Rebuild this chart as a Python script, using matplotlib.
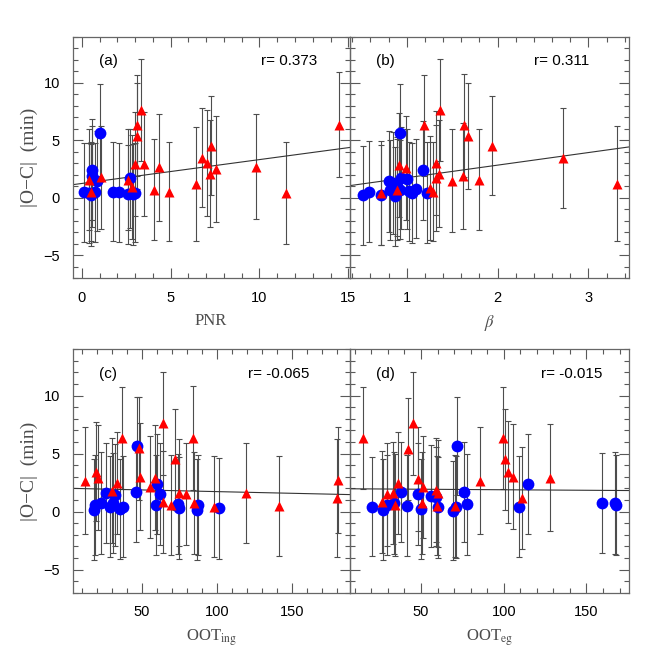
import numpy as np
import matplotlib
matplotlib.use('Agg')
import matplotlib.pyplot as plt
from matplotlib.ticker import MultipleLocator, FixedLocator

# ---- data ----
# panel (a): PNR
pnr_blue = [1.0, 0.56, 2.73, 0.13, 0.38, 0.51, 0.75, 0.88, 0.56, 1.75, 2.12, 2.63, 2.91, 3.0]
oc_a_blue = [5.66, 2.43, 1.71, 0.49, 0.43, 0.23, 0.49, 1.43, 1.86, 0.51, 0.49, 0.29, 0.29, 0.43]
err_a_blue = [4.25, 4.4, 4.3, 4.3, 4.35, 4.4, 4.3, 4.35, 4.4, 4.3, 4.3, 4.3, 4.4, 4.3]
pnr_red = [0.38, 0.5, 1.07, 2.58, 2.82, 2.97, 3.1, 3.1, 3.35, 3.48, 4.04,
           4.34, 4.9, 6.41, 6.75, 7.05, 7.2, 7.29, 7.58, 9.79, 11.49, 14.45]
oc_a_red = [1.57, 0.51, 1.77, 1.57, 0.94, 2.91, 6.29, 5.34, 7.63, 2.91, 0.71,
            2.66, 0.51, 1.2, 3.49, 3.0, 2.09, 4.51, 2.49, 2.71, 0.43, 6.34]
err_a_red = [4.4, 4.3, 4.5, 4.4, 4.5, 4.5, 4.4, 4.6, 4.43, 4.5, 4.4,
             4.65, 4.3, 4.95, 4.3, 4.6, 4.66, 4.3, 4.6, 4.6, 4.45, 4.55]

# panel (b): beta
beta_blue = [0.52, 0.58, 0.72, 0.81, 0.87, 0.85, 0.93, 0.94, 0.93, 1.0,
             1.02, 1.06, 1.10, 1.18, 1.22, 0.82, 0.89]
oc_b_blue = [0.23, 0.51, 0.23, 1.43, 0.14, 1.29, 5.63, 1.71, 0.71, 1.63,
             0.57, 0.43, 0.77, 2.37, 0.43, 0.71, 1.0]
err_b_blue = [4.3, 4.4, 4.35, 4.4, 4.3, 4.4, 4.25, 4.4, 4.3, 4.35,
              4.3, 4.35, 4.3, 4.3, 4.4, 4.35, 4.3]
beta_red = [0.72, 0.89, 0.92, 0.99, 1.19, 1.26, 1.29, 1.32, 1.32, 1.35,
            1.37, 1.5, 1.62, 1.63, 1.67, 1.8, 1.94, 2.72, 3.31]
oc_b_red = [0.43, 0.71, 2.86, 2.57, 6.29, 0.86, 0.51, 1.71, 3.0, 2.09,
            7.63, 1.49, 1.86, 6.29, 5.34, 1.57, 4.51, 3.49, 1.2]
err_b_red = [4.5, 4.4, 4.5, 4.5, 4.4, 4.5, 4.3, 4.6, 4.5, 4.66,
             4.43, 4.45, 4.6, 4.5, 4.6, 4.4, 4.3, 4.35, 5.0]

# panel (c): OOT ingress
ooti_blue = [18.2, 18.9, 22.7, 26.2, 28.9, 32.2, 31.1, 35.6, 37.3, 46.7,
             46.2, 60.4, 62.2, 59.6, 74.4, 74.9, 87.8, 87.1, 101.8]
oc_c_blue = [0.14, 0.57, 0.78, 1.58, 0.43, 1.44, 0.72, 0.2, 0.43, 5.66,
             1.67, 2.39, 1.49, 0.57, 0.66, 0.34, 0.57, 0.14, 0.29]
err_c_blue = [4.36, 4.3, 4.4, 4.3, 4.35, 4.4, 4.3, 4.3, 4.35, 4.25,
              4.3, 4.3, 4.4, 4.35, 4.3, 4.4, 4.3, 4.35, 4.37]
ooti_red = [12.2, 19.6, 21.1, 30.0, 33.3, 36.7, 48.4, 48.9, 55.6, 58.9, 64.0, 64.4,
            69.6, 72.2, 74.9, 79.3, 84.4, 84.9, 98.4, 119.6, 141.8, 180.0, 181.1]
oc_c_red = [2.67, 3.45, 2.93, 1.81, 2.5, 6.32, 5.46, 3.02, 2.1, 2.93, 0.86, 7.61,
            0.57, 4.51, 1.64, 1.49, 6.32, 0.78, 0.43, 1.58, 0.49, 1.15, 2.73]
err_c_red = [4.6, 4.3, 4.5, 4.5, 4.4, 4.4, 4.45, 4.6, 4.4, 4.5, 4.4, 4.46,
             4.3, 4.34, 4.6, 4.4, 4.5, 4.4, 4.35, 4.3, 4.34, 5.1, 4.6]

# panel (d): OOT egress
oote_blue = [20.2, 26.9, 29.3, 33.9, 37.9, 41.8, 48.0, 49.8, 56.0, 59.1, 60.5,
             69.5, 71.1, 71.5, 76.0, 78.0, 109.4, 114.6, 159.1, 167.5, 168.1]
oc_d_blue = [0.43, 0.14, 0.57, 0.72, 1.67, 0.52, 1.49, 0.2, 1.38, 1.29, 0.37,
             0.09, 0.37, 5.66, 1.67, 0.63, 0.43, 2.39, 0.72, 0.72, 0.57]
err_d_blue = [4.3, 4.35, 4.3, 4.4, 4.3, 4.35, 4.4, 4.3, 4.4, 4.3, 4.35,
              4.3, 4.4, 4.25, 4.3, 4.35, 4.35, 4.3, 4.3, 4.4, 4.3]
oote_red = [15.2, 26.3, 29.7, 33.0, 34.3, 35.9, 42.4, 45.0, 48.0, 51.0, 50.4, 59.1,
            60.5, 59.9, 70.5, 85.6, 99.7, 100.7, 102.7, 105.7, 110.8, 127.9]
oc_d_red = [6.32, 0.86, 1.49, 1.64, 0.57, 2.44, 5.4, 7.61, 2.79, 2.16, 0.78, 1.87,
            1.58, 0.52, 0.49, 2.67, 6.32, 4.51, 3.45, 3.02, 1.15, 2.93]
err_d_red = [4.4, 4.4, 4.45, 4.4, 4.4, 4.4, 4.4, 4.46, 4.5, 4.4, 4.4, 4.5,
             4.6, 4.3, 4.4, 4.6, 4.4, 4.34, 4.4, 4.5, 4.4, 4.6]

# linear fits (intercept, slope) and correlation coefficients
fit_intercept = [1.24, 0.645, 2.01, 1.97]
fit_slope = [0.2075, 1.094, -0.0029, -0.0009]
r_values = ['0.373', '0.311', '-0.065', '-0.015']
panel_tags = ['(a)', '(b)', '(c)', '(d)']
xlabels = ['PNR', r'$\beta$', r'OOT$_{\rm ing}$', r'OOT$_{\rm eg}$']

plt.rcParams['mathtext.fontset'] = 'stix'
plt.rcParams['font.family'] = ['Liberation Sans', 'DejaVu Sans']

fig = plt.figure(figsize=(6.64, 6.64), dpi=100)
positions = [
    [0.1092, 0.5809, 0.4172, 0.3639],
    [0.5264, 0.5809, 0.4209, 0.3639],
    [0.1092, 0.1074, 0.4172, 0.3666],
    [0.5264, 0.1074, 0.4209, 0.3666],
]
xlims = [(-0.52, 15.07), (0.37, 3.447), (3.87, 188.5), (6.85, 175.7)]
majors = [[0, 5, 10, 15], [1, 2, 3], [50, 100, 150], [50, 100, 150]]
minors = [1, 0.2, 10, 10]
rtext_x = [0.68, 0.66, 0.635, 0.685]

panels = [
    (pnr_blue, oc_a_blue, err_a_blue, pnr_red, oc_a_red, err_a_red),
    (beta_blue, oc_b_blue, err_b_blue, beta_red, oc_b_red, err_b_red),
    (ooti_blue, oc_c_blue, err_c_blue, ooti_red, oc_c_red, err_c_red),
    (oote_blue, oc_d_blue, err_d_blue, oote_red, oc_d_red, err_d_red),
]

for i, (xb, yb, eb, xr, yr, er) in enumerate(panels):
    ax = fig.add_axes(positions[i])
    ax.set_facecolor('none')
    ebar_kw = dict(fmt='none', ecolor='0.3', elinewidth=0.8, capsize=2.2,
                   capthick=0.8, zorder=1)
    ax.errorbar(xb, yb, yerr=eb, **ebar_kw)
    ax.errorbar(xr, yr, yerr=er, **ebar_kw)

    xx = np.array(xlims[i])
    ax.plot(xx, fit_intercept[i] + fit_slope[i] * xx, color='0.2', lw=0.8, zorder=2)

    ax.plot(xb, yb, 'o', color='#0000ff', ms=8.5, mec='none', zorder=3)
    ax.plot(xr, yr, '^', color='#ff0000', ms=7.5, mec='none', zorder=4)

    ax.set_xlim(*xlims[i])
    ax.set_ylim(-7, 14)
    ax.xaxis.set_major_locator(FixedLocator(majors[i]))
    ax.xaxis.set_minor_locator(MultipleLocator(minors[i]))
    ax.yaxis.set_major_locator(MultipleLocator(5))
    ax.yaxis.set_minor_locator(MultipleLocator(1))
    ax.tick_params(which='both', direction='in', top=True, right=True,
                   color='0.35', labelsize=10.5, width=0.8)
    ax.tick_params(which='major', length=7, pad=9)
    ax.tick_params(which='minor', length=3.5)
    for s in ax.spines.values():
        s.set_color('0.4')
        s.set_linewidth(0.9)

    if i % 2 == 1:
        ax.set_yticklabels([])
    else:
        ax.set_ylabel('|O\u2212C|  (min)', family='Liberation Serif', fontsize=14,
                      color='0.3', labelpad=4)
    ax.set_xlabel(xlabels[i], family='Liberation Serif', fontsize=12,
                  color='0.3', labelpad=6)

    ax.text(0.095, 0.9, panel_tags[i], transform=ax.transAxes, fontsize=11,
            va='center')
    ax.text(rtext_x[i], 0.9, 'r= ' + r_values[i], transform=ax.transAxes,
            fontsize=11, va='center')

fig.savefig('out.png', dpi=100)
